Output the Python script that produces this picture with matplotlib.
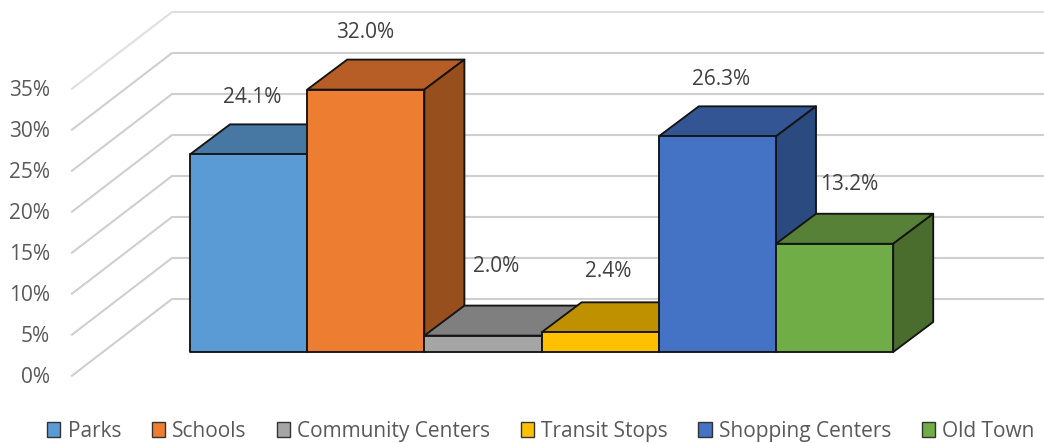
import matplotlib
matplotlib.use('Agg')
import matplotlib.pyplot as plt
from matplotlib.patches import Patch, Polygon

# values
categories = ['Parks', 'Schools', 'Community Centers', 'Transit Stops', 'Shopping Centers', 'Old Town']
values = [24.1, 32.0, 2.0, 2.4, 26.3, 13.2]
yticks = [0, 5, 10, 15, 20, 25, 30, 35]

front_colors = ['#5B9BD5', '#ED7D31', '#A5A5A5', '#FFC000', '#4472C4', '#70AD47']
top_colors = ['#4777A3', '#B65E25', '#7F7F7F', '#BF9000', '#335593', '#568136']
side_colors = ['#3E6A92', '#984F1E', '#6A6A6A', '#A07800', '#2A4A80', '#4A6D2D']

# pixel scale of the picture
px_x = 117.2   # px per category
px_y = 8.2     # px per percent
x0_px = 190
y0_px = 352

plt.rcParams['font.family'] = ['Open Sans', 'DejaVu Sans']
fig = plt.figure(figsize=(10.44, 4.43), dpi=100)
ax = fig.add_axes([0, 0, 1, 1])
ax.set_xlim(-x0_px / px_x, (1044 - x0_px) / px_x)
ax.set_ylim((y0_px - 443) / px_y, y0_px / px_y)
ax.axis('off')

# depth of the bars and of the floor, in data units
bar_dx = 40 / px_x
bar_dy = 30 / px_y
wall_dx = 100 / px_x
wall_dy = 76.7 / px_y
floor_x = (72 - x0_px) / px_x
floor_y = (y0_px - 375.7) / px_y

# gridlines: left wall + back wall
for v in yticks:
    back_x = floor_x + wall_dx
    back_y = floor_y + wall_dy + v
    color = '#DFDFDF' if v == yticks[-1] else '#CFCFCF'
    ax.plot([floor_x, back_x, ax.get_xlim()[1]], [floor_y + v, back_y, back_y],
            color=color, lw=1.5, zorder=1, solid_joinstyle='miter')
    ax.annotate(f'{v}%', (floor_x, floor_y + v), xytext=(-16, -1.2), textcoords='offset points',
                ha='right', va='center', fontsize=15, color='#595959')

# bars, left to right so each one covers the side of the one before
label_offsets = [(2.5, 41), (-0.5, 40.8), (9.5, 50), (6, 43.8), (2.3, 41), (10.3, 42.5)]
edge = dict(edgecolor='#141414', lw=1.35, joinstyle='round')
for i, v in enumerate(values):
    z = 2 + i
    top = [(i, v), (i + bar_dx, v + bar_dy), (i + 1 + bar_dx, v + bar_dy), (i + 1, v)]
    side = [(i + 1, 0), (i + 1 + bar_dx, bar_dy), (i + 1 + bar_dx, v + bar_dy), (i + 1, v)]
    front = [(i, 0), (i, v), (i + 1, v), (i + 1, 0)]
    ax.add_patch(Polygon(top, facecolor=top_colors[i], zorder=z, **edge))
    ax.add_patch(Polygon(side, facecolor=side_colors[i], zorder=z, **edge))
    ax.add_patch(Polygon(front, facecolor=front_colors[i], zorder=z, **edge))
    ax.annotate(f'{v:.1f}%', (i + 0.5, v), xytext=label_offsets[i], textcoords='offset points',
                ha='center', va='center', fontsize=15, color='#404040', zorder=10)

handles = [Patch(facecolor=c, edgecolor='#333333', lw=1) for c in front_colors]
fig.legend(handles, categories, ncol=6, loc='lower center', bbox_to_anchor=(0.518, 0.003),
           frameon=False, fontsize=15, labelcolor='#595959', handlelength=0.63,
           handleheight=0.7, handletextpad=0.35, columnspacing=1.46,
           borderpad=0, borderaxespad=0)

fig.savefig('out.png', dpi=100)
